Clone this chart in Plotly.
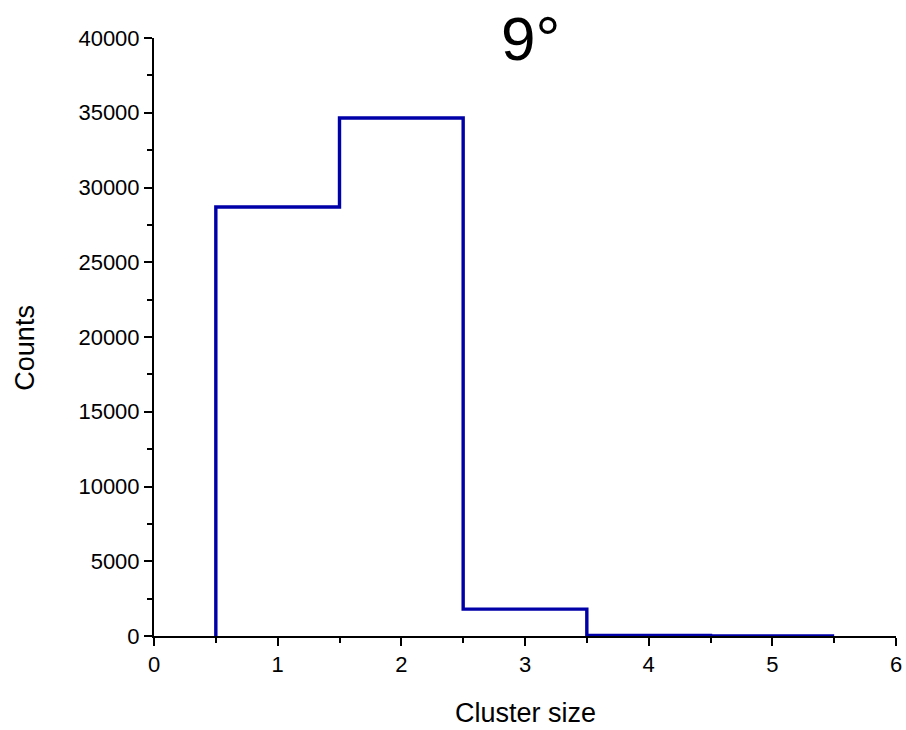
import plotly.graph_objects as go

cluster_size = [1, 2, 3, 4, 5]
counts = [28700, 34650, 1800, 30, 10]
x_ticks = [0, 1, 2, 3, 4, 5, 6]
y_ticks = [0, 5000, 10000, 15000, 20000, 25000, 30000, 35000, 40000]

# step outline: left edge starts at 0, then each bin
edges = [c - 0.5 for c in cluster_size] + [cluster_size[-1] + 0.5]
ys = [0] + counts

FONT = "Liberation Sans, Arial"

fig = go.Figure()
fig.add_trace(go.Scatter(
    x=edges, y=ys, mode="lines", line_shape="vh",
    line=dict(color="#0000A8", width=3.4), showlegend=False,
))

axis_common = dict(
    showline=True, linecolor="black", linewidth=2,
    ticks="outside", ticklen=8, tickwidth=2, tickcolor="black",
    showgrid=False, zeroline=False, mirror=False, automargin=False,
    tickfont=dict(family=FONT, size=22, color="black"),
)

fig.update_xaxes(
    range=[0, 6], tickvals=x_ticks, ticktext=[str(v) for v in x_ticks],
    minor=dict(ticks="outside", ticklen=5, tickwidth=2, tickcolor="black", dtick=0.5),
    **axis_common,
)
fig.update_yaxes(
    range=[0, 40000], tickvals=y_ticks, ticktext=[str(v) for v in y_ticks],
    minor=dict(ticks="outside", ticklen=5, tickwidth=2, tickcolor="black", dtick=2500),
    **axis_common,
)

fig.add_annotation(
    text="Cluster size", xref="paper", yref="paper", x=0.5, y=-0.129,
    xanchor="center", yanchor="middle", showarrow=False,
    font=dict(family=FONT, size=27, color="black"),
)
fig.add_annotation(
    text="Counts", xref="paper", yref="paper", x=-0.174, y=0.482,
    xanchor="center", yanchor="middle", showarrow=False, textangle=-90,
    font=dict(family=FONT, size=27, color="black"),
)
fig.add_annotation(
    text="9°", xref="paper", yref="paper", x=0.507, y=1.0,
    xanchor="center", yanchor="middle", showarrow=False,
    font=dict(family=FONT, size=62, color="black"),
)

fig.update_layout(
    width=906, height=730,
    margin=dict(l=154, r=10, t=38, b=94),
    plot_bgcolor="white", paper_bgcolor="white",
)

fig.write_html("out.html")
